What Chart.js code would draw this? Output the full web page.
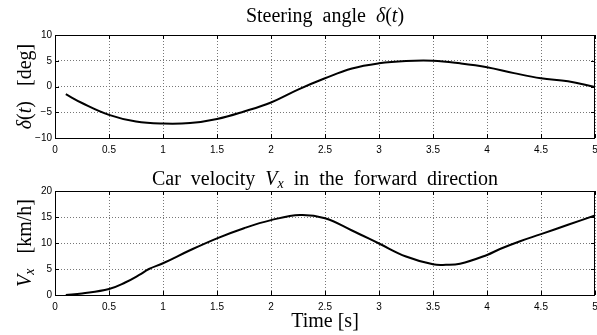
<!DOCTYPE html>
<html>
<head>
<meta charset="utf-8">
<script src="https://cdn.jsdelivr.net/npm/chart.js@4"></script>
<style>
  html, body { margin: 0; padding: 0; background: #fff; }
  #wrap { position: relative; width: 597px; height: 335px; }
  #steerBox { position: absolute; left: 0; top: 0; width: 597px; height: 165px; }
  #velBox { position: absolute; left: 0; top: 165px; width: 597px; height: 170px; }
</style>
</head>
<body>
<div id="wrap">
  <div id="steerBox"><canvas id="steerChart"></canvas></div>
  <div id="velBox"><canvas id="velChart"></canvas></div>
</div>
<script>
// steering angle delta(t) [deg]
var steerTime  = [0.1, 0.25, 0.5, 0.75, 1.0, 1.25, 1.5, 1.75, 2.0, 2.25, 2.5, 2.75, 3.0, 3.25, 3.5, 3.75, 4.0, 4.25, 4.5, 4.75, 5.0];
var steerAngle = [-1.5, -3.2, -5.5, -6.8, -7.2, -7.1, -6.3, -4.85, -3.1, -0.6, 1.6, 3.5, 4.5, 4.95, 5.0, 4.5, 3.75, 2.6, 1.6, 1.0, -0.1];

// car velocity Vx [km/h]
var velTime  = [0.1, 0.25, 0.5, 0.65, 0.78, 0.87, 1.0, 1.25, 1.5, 1.75, 2.0, 2.27, 2.5, 2.75, 3.0, 3.25, 3.5, 3.62, 3.75, 4.0, 4.12, 4.3, 4.5, 4.75, 5.0];
var velocity = [0, 0.3, 1.15, 2.4, 3.85, 5.0, 6.1, 8.6, 10.9, 12.85, 14.4, 15.4, 14.75, 12.4, 9.9, 7.4, 5.9, 5.8, 6.0, 7.7, 8.85, 10.3, 11.7, 13.5, 15.3];

var timeTicks = [0, 0.5, 1, 1.5, 2, 2.5, 3, 3.5, 4, 4.5, 5];
var steerTicks = [-10, -5, 0, 5, 10];
var velTicks = [0, 5, 10, 15, 20];

var serif = '"Liberation Serif", "Times New Roman", serif';
var sans = '"Liberation Sans", Arial, Helvetica, sans-serif';

function pts(xs, ys) {
  return xs.map(function (x, i) { return { x: x, y: ys[i] }; });
}

// draws text made of several font runs, centred on x
function drawRich(ctx, parts, x, y) {
  var w = 0;
  parts.forEach(function (p) { ctx.font = p.f; w += ctx.measureText(p.t).width; });
  var cx = x - w / 2;
  ctx.textAlign = 'left';
  ctx.textBaseline = 'alphabetic';
  parts.forEach(function (p) {
    ctx.font = p.f;
    ctx.fillText(p.t, cx, y + (p.dy || 0));
    cx += ctx.measureText(p.t).width;
  });
}

// box, inner ticks and the labels of one subplot
function framePlugin(cfg) {
  return {
    id: 'frame',
    afterDraw: function (chart) {
      var ctx = chart.ctx, a = chart.chartArea;
      var xs = chart.scales.x, ys = chart.scales.y;
      ctx.save();
      ctx.strokeStyle = '#000';
      ctx.lineWidth = 1;
      ctx.beginPath();
      timeTicks.forEach(function (t) {
        var px = Math.round(xs.getPixelForValue(t)) + 0.5;
        ctx.moveTo(px, a.top); ctx.lineTo(px, a.top + 4);
        ctx.moveTo(px, a.bottom); ctx.lineTo(px, a.bottom - 4);
      });
      cfg.yTicks.forEach(function (v) {
        var py = Math.round(ys.getPixelForValue(v)) + 0.5;
        ctx.moveTo(a.left, py); ctx.lineTo(a.left + 4, py);
        ctx.moveTo(a.right, py); ctx.lineTo(a.right - 4, py);
      });
      ctx.stroke();
      ctx.strokeRect(Math.round(a.left) + 0.5, Math.round(a.top) + 0.5,
                     Math.round(a.right - a.left) - 1, Math.round(a.bottom - a.top));
      ctx.fillStyle = '#000';
      drawRich(ctx, cfg.title, (a.left + a.right) / 2, cfg.titleY);
      ctx.translate(cfg.yLabelX, (a.top + a.bottom) / 2);
      ctx.rotate(-Math.PI / 2);
      drawRich(ctx, cfg.yLabel, 0, 0);
      ctx.setTransform(1, 0, 0, 1, 0, 0);
      if (cfg.xLabel) drawRich(ctx, cfg.xLabel, (a.left + a.right) / 2, cfg.xLabelY);
      ctx.restore();
    }
  };
}

function makeChart(el, xs, ys, yMin, yMax, xAxisH, topPad, cfg) {
  return new Chart(el.getContext('2d'), {
    type: 'line',
    data: {
      datasets: [{
        data: pts(xs, ys),
        borderColor: '#000',
        borderWidth: 2,
        pointRadius: 0,
        tension: 0.4,
        fill: false
      }]
    },
    options: {
      responsive: true,
      maintainAspectRatio: false,
      animation: false,
      layout: { padding: { left: 0, right: 2, top: topPad, bottom: 0 } },
      plugins: { legend: { display: false }, tooltip: { enabled: false } },
      scales: {
        x: {
          type: 'linear',
          min: 0, max: 5,
          afterBuildTicks: function (s) { s.ticks = timeTicks.map(function (v) { return { value: v }; }); },
          afterFit: function (s) { s.height = xAxisH; s.paddingLeft = 0; s.paddingRight = 0; },
          ticks: {
            padding: 6, maxRotation: 0, color: '#000', font: { family: sans, size: 10 },
            callback: function (v) { return String(v); }
          },
          grid: { drawTicks: false, color: '#777', lineWidth: 1 },
          border: { display: false, dash: [1, 2] }
        },
        y: {
          min: yMin, max: yMax,
          afterBuildTicks: function (s) { s.ticks = cfg.yTicks.map(function (v) { return { value: v }; }); },
          afterFit: function (s) { s.width = 55; },
          ticks: {
            padding: 3, color: '#000', font: { family: sans, size: 10 },
            callback: function (v) { return String(v).replace('-', '\u2212'); }
          },
          grid: { drawTicks: false, color: '#777', lineWidth: 1 },
          border: { display: false, dash: [1, 2] }
        }
      }
    },
    plugins: [framePlugin(cfg)]
  });
}

var big = '20px ' + serif;
var bigIt = 'italic 20px ' + serif;
var subIt = 'italic 14px ' + serif;

window.steerChart = makeChart(document.getElementById('steerChart'), steerTime, steerAngle, -10, 10, 27, 35, {
  yTicks: steerTicks,
  title: [{ t: 'Steering  angle  ', f: big }, { t: '\u03b4', f: bigIt }, { t: '(', f: big }, { t: 't', f: bigIt }, { t: ')', f: big }],
  titleY: 22,
  yLabel: [{ t: '\u03b4', f: bigIt }, { t: '(', f: big }, { t: 't', f: bigIt }, { t: ')   [deg]', f: big }],
  yLabelX: 31
});

window.velChart = makeChart(document.getElementById('velChart'), velTime, velocity, 0, 20, 40, 26, {
  yTicks: velTicks,
  title: [{ t: 'Car  velocity  ', f: big }, { t: 'V', f: bigIt }, { t: 'x', f: subIt, dy: 3 }, { t: '  in  the  forward  direction', f: big }],
  titleY: 20,
  yLabel: [{ t: 'V', f: bigIt }, { t: 'x', f: subIt, dy: 3 }, { t: '   [km/h]', f: big }],
  yLabelX: 31,
  xLabel: [{ t: 'Time [s]', f: big }],
  xLabelY: 162
});
</script>
</body>
</html>
